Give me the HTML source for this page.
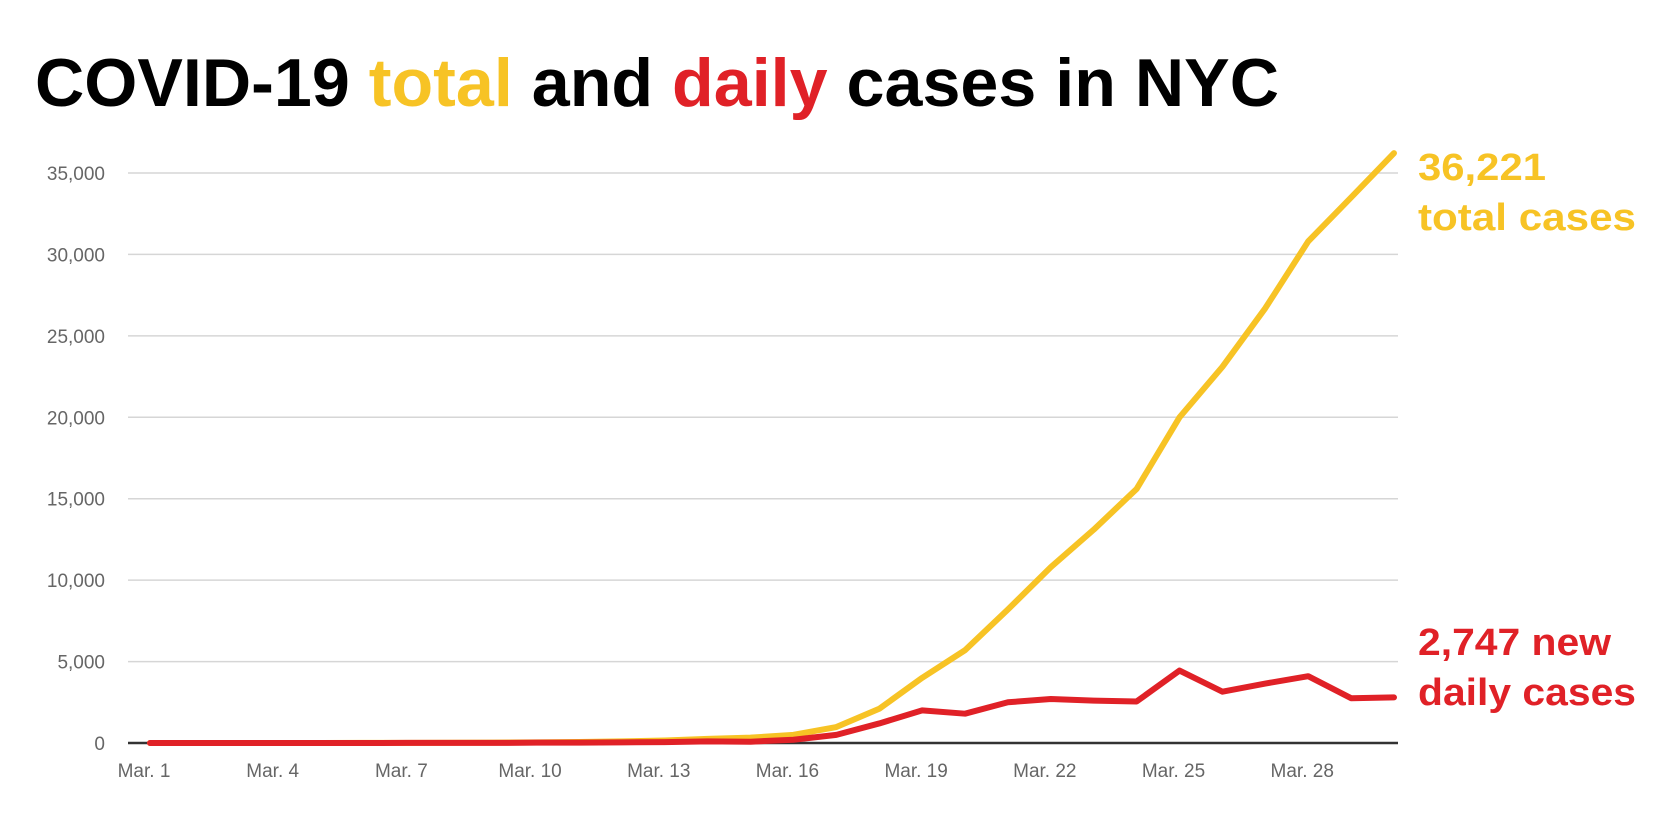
<!DOCTYPE html>
<html><head><meta charset="utf-8"><style>
html,body{margin:0;padding:0;background:#fff;}
svg{display:block;font-family:"Liberation Sans",sans-serif;}
</style></head><body>
<svg id="chart" width="1667" height="834" viewBox="0 0 1667 834">
<text x="35" y="106" font-size="68" font-weight="bold" fill="#000" textLength="1244" lengthAdjust="spacingAndGlyphs">COVID-19 <tspan fill="#f7c325">total</tspan> and <tspan fill="#e02127">daily</tspan> cases in NYC</text>
<g id="grid"></g><g id="xlab"></g><g id="lines"></g>
<text x="1418" y="180" font-size="38" font-weight="bold" fill="#f7c325" textLength="128" lengthAdjust="spacingAndGlyphs">36,221</text>
<text x="1418" y="230" font-size="38" font-weight="bold" fill="#f7c325" textLength="218" lengthAdjust="spacingAndGlyphs">total cases</text>
<text x="1418" y="655" font-size="38" font-weight="bold" fill="#e02127" textLength="193" lengthAdjust="spacingAndGlyphs">2,747 new</text>
<text x="1418" y="705" font-size="38" font-weight="bold" fill="#e02127" textLength="218" lengthAdjust="spacingAndGlyphs">daily cases</text>
</svg>
<script>
const yTicks=[0,5000,10000,15000,20000,25000,30000,35000];
const yTickLabels=["0","5,000","10,000","15,000","20,000","25,000","30,000","35,000"];
const xTickLabels=["Mar. 1","Mar. 4","Mar. 7","Mar. 10","Mar. 13","Mar. 16","Mar. 19","Mar. 22","Mar. 25","Mar. 28"];
const xTickDays=[0,3,6,9,12,15,18,21,24,27];
const totalCases=[1,1,2,2,3,5,10,15,20,40,60,100,150,250,330,500,980,2100,4000,5700,8200,10800,13100,15600,20000,23100,26700,30800,33500,36221];
const dailyCases=[1,0,1,0,1,2,5,5,5,20,20,40,50,100,80,200,500,1200,2000,1800,2500,2700,2600,2550,4450,3150,3650,4100,2750,2800];
const NS="http://www.w3.org/2000/svg";
const X0=150,X1=1394,Y0=743,Y35=173;
const xs=i=>X0+(X1-X0)*i/29;
const ys=v=>Y0-(Y0-Y35)*v/35000;
function mk(t,a,p){const e=document.createElementNS(NS,t);for(const k in a)e.setAttribute(k,a[k]);p.appendChild(e);return e;}
const grid=document.getElementById('grid');
yTicks.forEach((v,i)=>{
 const l=mk('line',{x1:128,x2:1398,y1:ys(v),y2:ys(v),stroke:v===0?'#333':'#d6d6d6','stroke-width':v===0?2.5:1.5},grid);
 
 
 const t=mk('text',{x:105,y:ys(v)+7,'text-anchor':'end','font-size':19,fill:'#666'},grid);
 t.textContent=yTickLabels[i];
 
 
});
const xl=document.getElementById('xlab');
xTickLabels.forEach((s,i)=>{
 const t=mk('text',{x:xs(xTickDays[i])-6,y:777,'text-anchor':'middle','font-size':19,fill:'#666'},xl);
 t.textContent=s;
 
 
});
const lg=document.getElementById('lines');
function series(d,c,n){
 const p=mk('polyline',{points:d.map((v,i)=>xs(i)+','+ys(v)).join(' '),fill:'none',stroke:c,'stroke-width':6,'stroke-linejoin':'round','stroke-linecap':'round'},lg);
 
 
}
series(totalCases,'#f7c325','total-cases-line');
series(dailyCases,'#e02127','daily-cases-line');
</script>
</body></html>
